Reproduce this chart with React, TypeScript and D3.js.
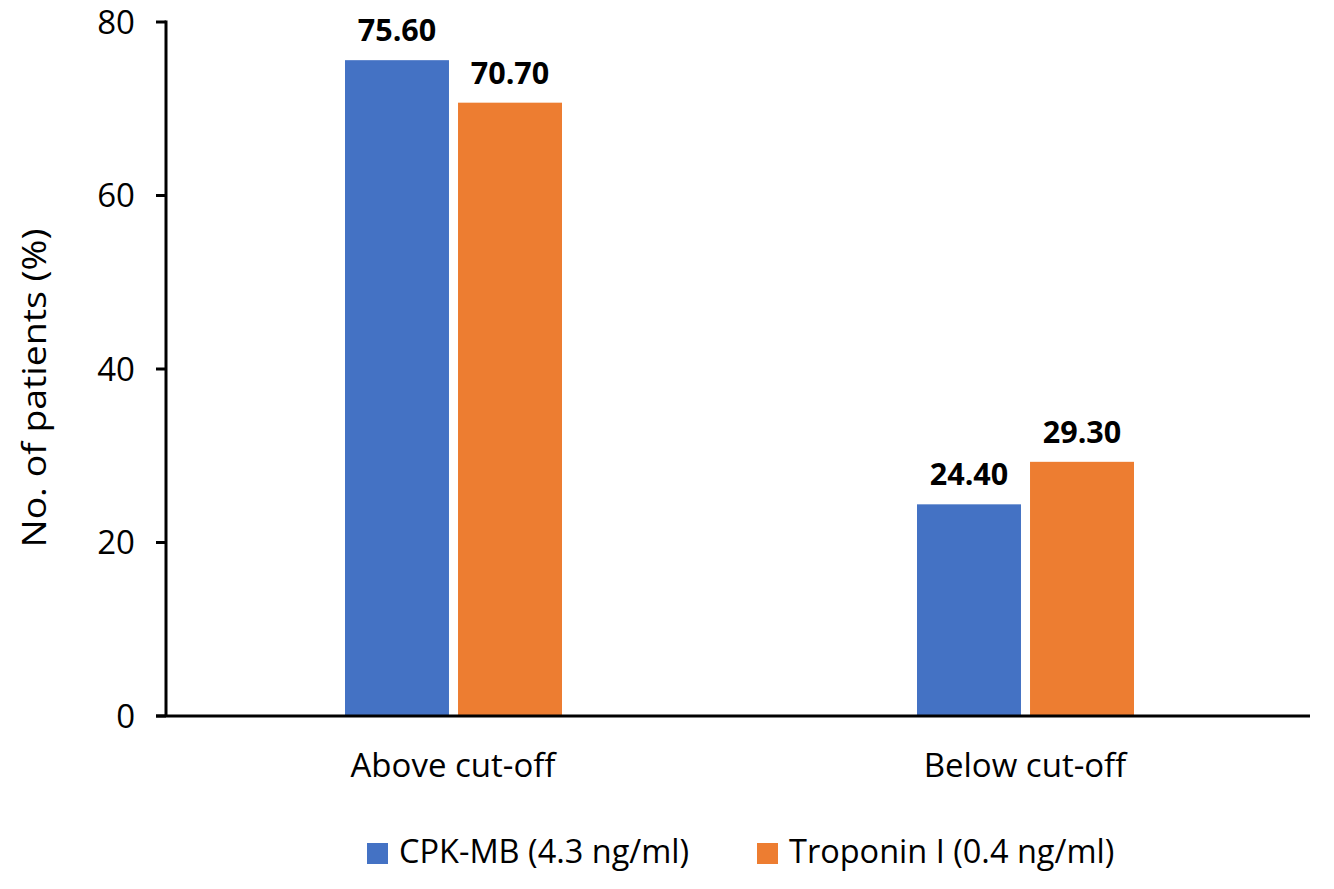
import React from "react";
import * as d3 from "d3";

const categories = ["Above cut-off", "Below cut-off"];
const seriesNames = ["CPK-MB (4.3 ng/ml)", "Troponin I (0.4 ng/ml)"];
const cpkValues = [75.6, 24.4];
const troponinValues = [70.7, 29.3];
const yTicks = [0, 20, 40, 60, 80];
const colors = ["#4472C4", "#ED7D31"];

const W = 1334;
const H = 889;
const FONT = "'Open Sans', Lato, sans-serif";

export default function App() {
  const left = 166;
  const right = 1310;
  const top = 22;
  const bottom = 716;

  const y = d3.scaleLinear().domain([0, 80]).range([bottom, top]);
  const x0 = d3.scaleBand<string>().domain(categories).range([left, right]).padding(0);
  const groupW = 217;
  const x1 = d3.scaleBand<string>().domain(seriesNames).range([0, groupW]).paddingInner(0.08);
  const offset = (x0.bandwidth() - groupW) / 2 + 1.5;

  const series = [cpkValues, troponinValues];

  return (
    <svg width={W} height={H} style={{ position: "absolute", left: 0, top: 0, background: "#fff" }} fontFamily={FONT}>
      <rect x={0} y={0} width={W} height={H} fill="#fff" />
      {categories.map((c, ci) =>
        seriesNames.map((s, si) => {
          const v = series[si][ci];
          const bx = (x0(c) as number) + offset + (x1(s) as number);
          return (
            <g key={c + s}>
              <rect x={bx} y={y(v)} width={x1.bandwidth()} height={y(0) - y(v)} fill={colors[si]} />
              <text
                x={bx + x1.bandwidth() / 2}
                y={y(v) - 19}
                textAnchor="middle"
                fontSize={30.5}
                fontWeight="bold"
                fill="#000"
              >
                {v.toFixed(2)}
              </text>
            </g>
          );
        })
      )}
      <line x1={left} x2={left} y1={top - 1.5} y2={bottom} stroke="#000" strokeWidth={3} />
      {yTicks.map((t) => (
        <g key={t}>
          <line x1={left - 10} x2={left} y1={y(t)} y2={y(t)} stroke="#000" strokeWidth={3} />
          <text x={left - 31} y={y(t)} dy="0.36em" textAnchor="end" fontSize={33} fill="#000">
            {t}
          </text>
        </g>
      ))}
      <line x1={left - 10} x2={right} y1={bottom} y2={bottom} stroke="#000" strokeWidth={3} />
      {categories.map((c) => (
        <text
          key={c}
          x={(x0(c) as number) + x0.bandwidth() / 2 + 1}
          y={777}
          textAnchor="middle"
          fontSize={33}
          fill="#000"
        >
          {c}
        </text>
      ))}
      <text
        transform={`translate(46, 388) rotate(-90)`}
        textAnchor="middle"
        fontSize={33}
        textLength={319}
        lengthAdjust="spacingAndGlyphs"
        fill="#000"
      >
        No. of patients (%)
      </text>
      {seriesNames.map((s, i) => {
        const lx = i === 0 ? 367 : 757;
        return (
          <g key={s}>
            <rect x={lx} y={843} width={21} height={21} fill={colors[i]} />
            <text x={lx + 32} y={863} fontSize={32.5} fill="#000">
              {s}
            </text>
          </g>
        );
      })}
    </svg>
  );
}
